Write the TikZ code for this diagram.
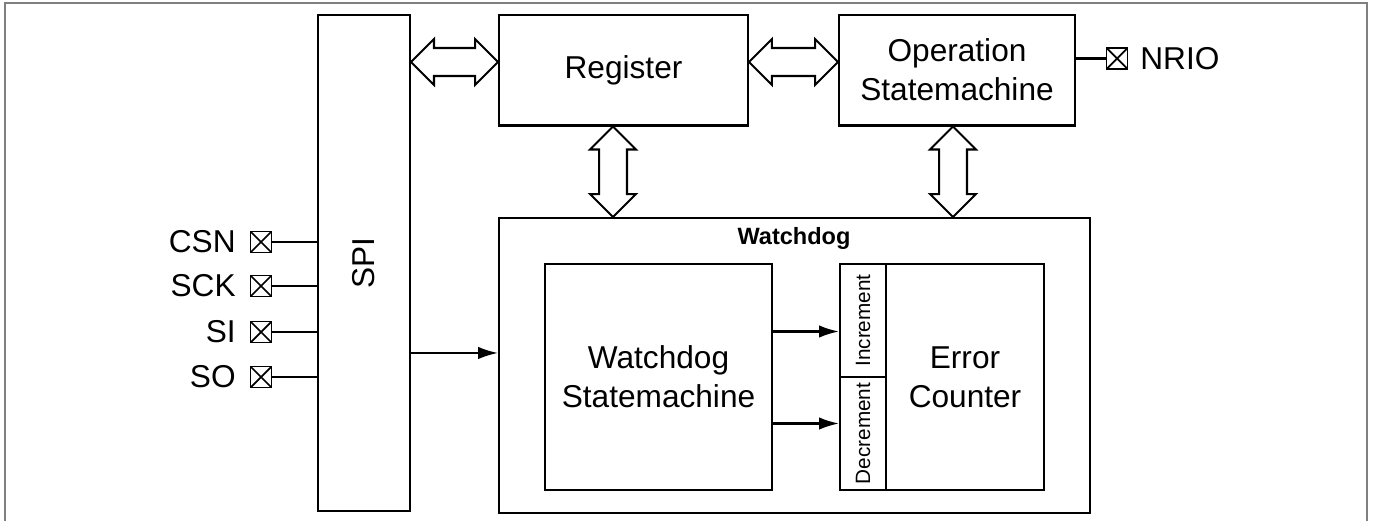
\documentclass[tikz,border=0pt]{standalone}
\usepackage{fontspec}
\setmainfont{Liberation Sans}
\usetikzlibrary{calc,arrows.meta}

\begin{document}
\begin{tikzpicture}[x=0.02cm, y=-0.02cm,
    block/.style={draw, line width=1.15pt, align=center, inner sep=0pt, font=\fontsize{18}{22}\selectfont},
    tag/.style={draw, line width=1.15pt, inner sep=0pt, font=\fontsize{11.8}{14}\selectfont},
    pinbox/.style={draw, line width=1pt, minimum size=0.42cm, inner sep=0pt,
        path picture={\draw[line width=1pt] (path picture bounding box.south west) -- (path picture bounding box.north east)
            (path picture bounding box.north west) -- (path picture bounding box.south east);}},
    pinlabel/.style={inner sep=0pt, font=\fontsize{18}{22}\selectfont},
    bus/.style={draw, line width=1.15pt, fill=white, line join=miter},
    wire/.style={line width=1.15pt},
    sig/.style={line width=1.15pt, -{Latex[length=0.4cm, width=0.25cm]}}]
    \def\bush#1#2{% horizontal bus, #1 left tip, #2 right tip
        \draw[bus] let \p1=(#1), \p2=(#2) in
            (\p1) -- (\x1+0.46cm,\y1+0.46cm) -- (\x1+0.46cm,\y1+0.28cm) -- (\x2-0.46cm,\y1+0.28cm)
            -- (\x2-0.46cm,\y1+0.46cm) -- (\x2,\y1) -- (\x2-0.46cm,\y1-0.46cm) -- (\x2-0.46cm,\y1-0.28cm)
            -- (\x1+0.46cm,\y1-0.28cm) -- (\x1+0.46cm,\y1-0.46cm) -- cycle;
    }

    \def\busv#1#2{% vertical bus, #1 top tip, #2 bottom tip
        \draw[bus] let \p1=(#1), \p2=(#2) in
            (\p1) -- (\x1-0.46cm,\y1-0.46cm) -- (\x1-0.28cm,\y1-0.46cm) -- (\x1-0.28cm,\y2+0.46cm)
            -- (\x1-0.46cm,\y2+0.46cm) -- (\x1,\y2) -- (\x1+0.46cm,\y2+0.46cm) -- (\x1+0.28cm,\y2+0.46cm)
            -- (\x1+0.28cm,\y1-0.46cm) -- (\x1+0.46cm,\y1-0.46cm) -- cycle;
    }

    \def\pin#1#2#3{% name, text, y
        \node[pinbox] (#1) at (261,#3) {};
        \node[pinlabel, anchor=east] (#1lbl) at (236,#3) {#2};
        \draw[wire] (#1.east) -- (#1.east -| spi.west);
    }

    \useasboundingbox (0,0) rectangle (1373,521);
    \draw[gray, line width=1.4pt] (5,521) -- (5,3) -- (1367,3) -- (1367,521);

    % blocks
    \node[block, minimum width=1.84cm, minimum height=9.92cm] (spi) at (364,263) {\rotatebox{90}{SPI}};
    \node[block, minimum width=4.98cm, minimum height=2.22cm] (reg) at (623.5,70) {Register};
    \node[block, minimum width=4.72cm, minimum height=2.22cm] (opsm) at (957,70) {Operation\\Statemachine};
    \node[block, minimum width=11.82cm, minimum height=5.9cm] (wd) at (794.5,365.5) {};
    \node[font=\fontsize{13.4}{16}\selectfont\bfseries, inner sep=0pt] (wdtitle) at (794,238) {Watchdog};
    \node[block, minimum width=4.54cm, minimum height=4.52cm] (wdsm) at (658.5,377) {Watchdog\\Statemachine};
    \node[tag, minimum width=0.92cm, minimum height=2.26cm] (inc) at (863,320.5) {\rotatebox{90}{Increment}};
    \node[tag, minimum width=0.92cm, minimum height=2.26cm] (dec) at (863,433.5) {\rotatebox{90}{Decrement}};
    \node[block, minimum width=3.16cm, minimum height=4.52cm] (errc) at (965,377) {Error\\Counter};

    % pins
    \pin{csn}{CSN}{242}
    \pin{sck}{SCK}{286}
    \pin{si}{SI}{332}
    \pin{so}{SO}{377}

    \node[pinbox] (nrio) at (1117,58.5) {};
    \node[pinlabel, anchor=west] (nriolbl) at (1140,58.5) {NRIO};
    \draw[wire] (nrio.west) -- (nrio.west -| opsm.east);

    % signals
    \draw[sig] ([yshift=-1.8cm]spi.east) -- ([yshift=-1.8cm]spi.east -| wd.west);
    \draw[sig] ([yshift=-0.22cm]inc.west -| wdsm.east) -- ([yshift=-0.22cm]inc.west);
    \draw[sig] ([yshift=0.2cm]dec.west -| wdsm.east) -- ([yshift=0.2cm]dec.west);

    % buses
    \coordinate (busa) at ([yshift=0.16cm]reg.west);
    \coordinate (busb) at ([yshift=0.16cm]reg.east);
    \coordinate (busc) at ([xshift=-0.21cm]reg.south);
    \coordinate (busd) at ([xshift=-0.08cm]opsm.south);
    \bush{spi.east |- busa}{busa}
    \bush{busb}{opsm.west |- busb}
    \busv{busc}{busc |- wd.north}
    \busv{busd}{busd |- wd.north}
\end{tikzpicture}
\end{document}
